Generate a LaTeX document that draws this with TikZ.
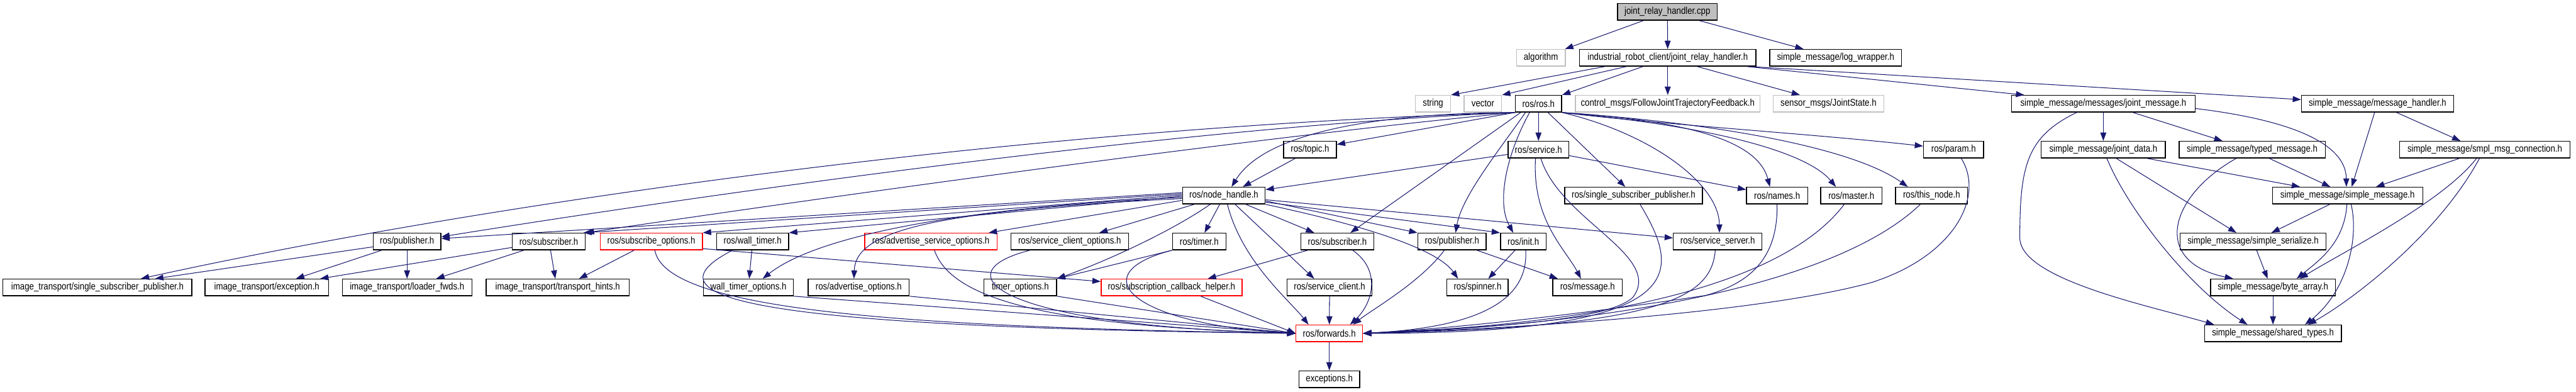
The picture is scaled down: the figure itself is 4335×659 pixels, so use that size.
\documentclass[tikz,border=0pt]{standalone}
\usepackage{fontspec}
\newfontfamily\dxfont[FakeStretch=0.85]{Liberation Sans}
\usetikzlibrary{arrows.meta}
\definecolor{depblue}{RGB}{25,25,112}
\definecolor{extgray}{RGB}{191,191,191}
\definecolor{truncred}{RGB}{255,0,0}
\definecolor{rootgray}{RGB}{191,191,191}

\begin{document}
\begin{tikzpicture}[
    x=1pt, y=-1pt,
    file/.style={draw=black, line width=1.5pt, fill=white, minimum height=28pt, inner sep=0pt, font={\fontsize{16.5}{18}\selectfont\dxfont}},
    extfile/.style={file, draw=extgray},
    trunc/.style={file, draw=truncred},
    root/.style={file, fill=rootgray},
    dep/.style={draw=depblue, line width=1.1pt, -{Triangle[length=14pt,width=10pt]}}
  ]
  \useasboundingbox (0,0) rectangle (4335,659);

  % row 0 and 1
  \node[root, minimum width=168pt] (cpp) at (2806,20) {joint\_relay\_handler.cpp};
  \node[extfile, minimum width=82pt] (algo) at (2593,97.25) {algorithm};
  \node[file, minimum width=297pt] (irc) at (2806.5,97.25) {industrial\_robot\_client/joint\_relay\_handler.h};
  \node[file, minimum width=222pt] (logw) at (3089,97.25) {simple\_message/log\_wrapper.h};

  % row 2
  \node[extfile, minimum width=59pt] (str) at (2411.5,174.5) {string};
  \node[extfile, minimum width=63pt] (vec) at (2495.5,174.5) {vector};
  \node[file, minimum width=78pt] (ros) at (2589,174.5) {ros/ros.h};
  \node[extfile, minimum width=311pt] (fjtf) at (2806.5,174.5) {control\_msgs/FollowJointTrajectoryFeedback.h};
  \node[extfile, minimum width=186pt] (jst) at (3077,174.5) {sensor\_msgs/JointState.h};
  \node[file, minimum width=309pt] (jmsg) at (3539.5,174.5) {simple\_message/messages/joint\_message.h};
  \node[file, minimum width=256pt] (mhnd) at (4001,174.5) {simple\_message/message\_handler.h};

  % row 3
  \node[file, minimum width=89pt] (topic) at (2204.5,251.75) {ros/topic.h};
  \node[file, minimum width=102pt] (srv) at (2589,251.75) {ros/service.h};
  \node[file, minimum width=101pt] (param) at (3287.5,251.75) {ros/param.h};
  \node[file, minimum width=209pt] (jdata) at (3539.5,251.75) {simple\_message/joint\_data.h};
  \node[file, minimum width=246pt] (tmsg) at (3790,251.75) {simple\_message/typed\_message.h};
  \node[file, minimum width=287pt] (conn) at (4181.5,251.75) {simple\_message/smpl\_msg\_connection.h};

  % row 4
  \node[file, minimum width=139pt] (nh) at (2059.5,329) {ros/node\_handle.h};
  \node[file, minimum width=232pt] (ssp) at (2749,329) {ros/single\_subscriber\_publisher.h};
  \node[file, minimum width=103pt] (names) at (2990.5,329) {ros/names.h};
  \node[file, minimum width=103pt] (master) at (3115.5,329) {ros/master.h};
  \node[file, minimum width=121pt] (thisn) at (3250.5,329) {ros/this\_node.h};
  \node[file, minimum width=253pt] (smsg) at (3950.5,329) {simple\_message/simple\_message.h};

  % row 5
  \node[file, minimum width=114pt] (pubA) at (685,406.25) {ros/publisher.h};
  \node[file, minimum width=123pt] (subA) at (923.5,406.25) {ros/subscriber.h};
  \node[trunc, minimum width=172pt] (subopt) at (1096,406.25) {ros/subscribe\_options.h};
  \node[file, minimum width=121pt] (wtimer) at (1266.5,406.25) {ros/wall\_timer.h};
  \node[trunc, minimum width=223pt] (advsrv) at (1566.5,406.25) {ros/advertise\_service\_options.h};
  \node[file, minimum width=198pt] (sclopt) at (1800,406.25) {ros/service\_client\_options.h};
  \node[file, minimum width=90pt] (timer) at (2018,406.25) {ros/timer.h};
  \node[file, minimum width=123pt] (subB) at (2250.5,406.25) {ros/subscriber.h};
  \node[file, minimum width=115pt] (pubB) at (2443.5,406.25) {ros/publisher.h};
  \node[file, minimum width=77pt] (init) at (2563.5,406.25) {ros/init.h};
  \node[file, minimum width=149pt] (ssrv) at (2890.5,406.25) {ros/service\_server.h};
  \node[file, minimum width=245pt] (ser) at (3791.5,406.25) {simple\_message/simple\_serialize.h};

  % row 6
  \node[file, minimum width=318pt] (itssp) at (164,483.5) {image\_transport/single\_subscriber\_publisher.h};
  \node[file, minimum width=208pt] (itexc) at (449,483.5) {image\_transport/exception.h};
  \node[file, minimum width=218pt] (itldr) at (685,483.5) {image\_transport/loader\_fwds.h};
  \node[file, minimum width=241pt] (itth) at (938.5,483.5) {image\_transport/transport\_hints.h};
  \node[file, minimum width=151pt] (wtopt) at (1259.5,483.5) {wall\_timer\_options.h};
  \node[file, minimum width=170pt] (advopt) at (1445,483.5) {ros/advertise\_options.h};
  \node[file, minimum width=122pt] (topt) at (1717,483.5) {timer\_options.h};
  \node[trunc, minimum width=237pt] (sch) at (1971.5,483.5) {ros/subscription\_callback\_helper.h};
  \node[file, minimum width=143pt] (scl) at (2237.5,483.5) {ros/service\_client.h};
  \node[file, minimum width=103pt] (spin) at (2486.5,483.5) {ros/spinner.h};
  \node[file, minimum width=117pt] (msg) at (2671.5,483.5) {ros/message.h};
  \node[file, minimum width=210pt] (barr) at (3825,483.5) {simple\_message/byte\_array.h};

  % rows 7 and 8
  \node[trunc, minimum width=112pt] (fwd) at (2237,560.75) {ros/forwards.h};
  \node[file, minimum width=230pt] (stypes) at (3825,560.75) {simple\_message/shared\_types.h};
  \node[file, minimum width=102pt] (exc) at (2237,638) {exceptions.h};

  % joint_relay_handler.cpp and its header
  \draw[dep] (cpp) -- (algo);
  \draw[dep] (cpp) -- (irc);
  \draw[dep] (cpp) -- (logw);
  \draw[dep] ([xshift=-106pt]irc.south) -- (str.north east);
  \draw[dep] ([xshift=-70pt]irc.south) -- (vec.north east);
  \draw[dep] ([xshift=-42pt]irc.south) -- (ros.north east);
  \draw[dep] (irc) -- (fjtf);
  \draw[dep] ([xshift=50pt]irc.south) -- ([xshift=-48pt]jst.north);
  \draw[dep] ([xshift=134pt]irc.south) -- ([xshift=-133pt]jmsg.north);
  \draw[dep] ([xshift=-10pt]irc.south east) -- ([yshift=7pt]mhnd.west);

  % ros/ros.h
  \draw[dep] (ros.south west) -- ([yshift=-6pt]topic.north east);
  \draw[dep] (ros) -- (srv);
  \draw[dep] ([xshift=16pt]ros.south) -- ([xshift=-14pt]ssp.north);
  \draw[dep] (ros.south east) .. controls (2800,210) and (3050,225) .. ([yshift=6pt]param.west);
  \draw[dep] (ros.south east) .. controls (2870,205) and (2960,245) .. ([xshift=-12pt]names.north);
  \draw[dep] (ros.south east) .. controls (2880,212) and (3040,255) .. ([xshift=-26pt]master.north);
  \draw[dep] (ros.south east) .. controls (2900,208) and (3120,250) .. ([xshift=-40pt]thisn.north);
  \draw[dep] (ros.south east) .. controls (2780,225) and (2893,310) .. ([xshift=3pt]ssrv.north);
  \draw[dep] (ros.south west) .. controls (2330,190) and (2130,220) .. ([xshift=13pt]nh.north);
  \draw[dep] (ros.south west) .. controls (2000,212) and (1200,325) .. ([yshift=8pt]pubA.east);
  \draw[dep] (ros.south west) .. controls (2100,232) and (1400,330) .. (subA.north east);
  \draw[dep] (ros.south west) .. controls (1700,215) and (800,345) .. ([xshift=73pt]itssp.north);
  \draw[dep] ([xshift=-30pt]ros.south) -- ([xshift=22pt]subB.north);
  \draw[dep] ([xshift=-22pt]ros.south) .. controls (2525,250) and (2460,330) .. ([xshift=6pt]pubB.north);
  \draw[dep] ([xshift=-15pt]ros.south) .. controls (2535,260) and (2518,340) .. ([xshift=-17pt]init.north);

  % ros/topic.h, ros/service.h
  \draw[dep] ([xshift=-25pt]topic.south) -- ([xshift=32pt]nh.north);
  \draw[dep] ([yshift=-8pt]srv.west) -- ([yshift=10pt]nh.east);
  \draw[dep] ([yshift=-10pt]srv.east) -- ([yshift=10pt]names.west);
  \draw[dep] ([xshift=-5pt]srv.south) .. controls (2578,370) and (2635,420) .. ([xshift=-11pt]msg.north);
  \draw[dep] ([xshift=4pt]srv.south) .. controls (2625,370) and (2800,430) .. (2748,500) .. controls (2700,545) and (2450,552) .. (fwd.east);

  % ros/node_handle.h
  \draw[dep] ([yshift=5pt]nh.west) -- ([yshift=5pt]pubA.east);
  \draw[dep] ([yshift=3pt]nh.west) -- ([xshift=-4pt]subA.north east);
  \draw[dep] ([yshift=1pt]nh.west) -- (subopt.north east);
  \draw[dep] ([yshift=-1pt]nh.west) -- (wtimer.north east);
  \draw[dep] ([yshift=-3pt]nh.west) .. controls (1600,350) and (1370,400) .. ([xshift=24pt]wtopt.north);
  \draw[dep] ([yshift=-5pt]nh.west) .. controls (1560,355) and (1440,390) .. ([xshift=-8pt]advopt.north);
  \draw[dep] ([yshift=-8pt]nh.west) -- ([xshift=-15pt]advsrv.north east);
  \draw[dep] ([xshift=-50pt]nh.south) -- ([xshift=50pt]sclopt.north);
  \draw[dep] ([xshift=-23pt]nh.south) .. controls (1970,390) and (1860,440) .. (topt.north east);
  \draw[dep] ([xshift=-7pt]nh.south) -- ([xshift=9pt]timer.north);
  \draw[dep] ([xshift=19pt]nh.south) -- ([xshift=-26pt]scl.north);
  \draw[dep] ([xshift=37pt]nh.south) -- ([xshift=-39pt]subB.north);
  \draw[dep] ([yshift=-9pt]nh.east) -- (pubB.north west);
  \draw[dep] ([yshift=-11pt]nh.east) -- (init.north west);
  \draw[dep] ([yshift=-7pt]nh.east) -- ([yshift=6pt]ssrv.west);
  \draw[dep] (nh.south east) .. controls (2300,380) and (2420,420) .. ([xshift=-33pt]spin.north);
  \draw[dep] ([xshift=6pt]nh.south) .. controls (2090,440) and (2170,505) .. ([xshift=-35pt]fwd.north);

  % row 5 headers
  \draw[dep] ([yshift=-9pt]pubA.west) -- ([xshift=97pt]itssp.north);
  \draw[dep] ([xshift=-43pt]pubA.south) -- ([xshift=49pt]itexc.north);
  \draw[dep] (pubA) -- (itldr);
  \draw[dep] ([yshift=-10pt]subA.west) -- ([xshift=-15pt]itexc.north east);
  \draw[dep] ([xshift=-42pt]subA.south) -- ([xshift=49pt]itldr.north);
  \draw[dep] ([xshift=3pt]subA.south) -- ([xshift=-4pt]itth.north);
  \draw[dep] ([xshift=-29pt]subopt.south) -- ([xshift=36pt]itth.north);
  \draw[dep] ([yshift=-12pt]subopt.east) -- ([yshift=10pt]sch.west);
  \draw[dep] ([xshift=6pt]subopt.south) .. controls (1120,520) and (1500,550) .. (fwd.west);
  \draw[dep] (wtimer) -- (wtopt);
  \draw[dep] ([xshift=-34pt]wtimer.south) .. controls (1080,500) and (1250,550) .. (fwd.west);
  \draw[dep] ([xshift=6pt]advsrv.south) .. controls (1600,500) and (1750,548) .. (fwd.west);
  \draw[dep] ([xshift=-67pt]sclopt.south) .. controls (1580,460) and (1680,548) .. (fwd.west);
  \draw[dep] (timer.south west) -- (topt.north east);
  \draw[dep] (timer.south west) .. controls (1820,460) and (1900,545) .. (fwd.west);
  \draw[dep] ([xshift=-50pt]subB.south) -- ([xshift=61pt]sch.north);
  \draw[dep] ([xshift=26pt]subB.south) .. controls (2325,455) and (2310,510) .. ([xshift=35pt]fwd.north);
  \draw[dep] ([xshift=42pt]pubB.south) -- ([xshift=-50pt]msg.north);
  \draw[dep] ([xshift=-13pt]pubB.south) .. controls (2390,475) and (2310,520) .. ([xshift=40pt]fwd.north);
  \draw[dep] ([xshift=-14pt]init.south) -- ([xshift=18pt]spin.north);
  \draw[dep] ([xshift=4pt]init.south) .. controls (2572,500) and (2500,550) .. (fwd.east);
  \draw[dep] ([xshift=-4pt]ssrv.south) .. controls (2880,500) and (2800,550) .. (fwd.east);

  % row 4 headers into ros/forwards.h
  \draw[dep] ([xshift=11pt]ssp.south) .. controls (2830,460) and (2850,560) .. (fwd.east);
  \draw[dep] (names.south) .. controls (2992,430) and (2950,475) .. (2870,497) .. controls (2650,530) and (2450,552) .. (fwd.east);
  \draw[dep] ([xshift=-12pt]master.south) .. controls (3000,480) and (2700,545) .. (fwd.east);
  \draw[dep] ([xshift=-19pt]thisn.south) .. controls (3100,470) and (2750,545) .. (fwd.east);
  \draw[dep] ([xshift=13pt]param.south) .. controls (3340,330) and (3290,430) .. (3150,475) .. controls (2950,530) and (2500,555) .. (fwd.east);

  % row 6 into ros/forwards.h
  \draw[dep] (wtopt.south east) -- (fwd.west);
  \draw[dep] (advopt.south east) -- (fwd.west);
  \draw[dep] (topt.south east) -- (fwd.west);
  \draw[dep] ([xshift=49pt]sch.south) -- (fwd.west);
  \draw[dep] (scl) -- (fwd);
  \draw[dep] (fwd) -- (exc);

  % simple_message
  \draw[dep] (jmsg) -- (jdata);
  \draw[dep] ([xshift=50pt]jmsg.south) -- ([xshift=-50pt]tmsg.north);
  \draw[dep] ([yshift=-8pt]jmsg.east) .. controls (3880,205) and (3948,250) .. ([xshift=-2pt]smsg.north);
  \draw[dep] ([xshift=-45pt]jmsg.south) .. controls (3410,230) and (3399,280) .. (3399,400) .. controls (3399,470) and (3620,515) .. ([xshift=-99pt]stypes.north);
  \draw[dep] ([xshift=-5pt]mhnd.south) -- ([xshift=7pt]smsg.north);
  \draw[dep] ([xshift=32pt]mhnd.south) -- ([xshift=-41pt]conn.north);
  \draw[dep] ([xshift=74pt]jdata.south) -- ([xshift=-80pt]smsg.north);
  \draw[dep] ([xshift=22pt]jdata.south) -- ([xshift=-28pt]ser.north);
  \draw[dep] ([xshift=6pt]jdata.south) .. controls (3580,350) and (3680,480) .. ([xshift=-43pt]stypes.north);
  \draw[dep] ([xshift=29pt]tmsg.south) -- ([xshift=-29pt]smsg.north);
  \draw[dep] ([xshift=-27pt]tmsg.south) .. controls (3650,330) and (3620,440) .. ([xshift=-67pt]barr.north);
  \draw[dep] ([xshift=-43pt]conn.south) -- ([xshift=48pt]smsg.north);
  \draw[dep] ([xshift=-14pt]conn.south) .. controls (4110,340) and (3950,420) .. ([xshift=45pt]barr.north);
  \draw[dep] ([xshift=-9pt]conn.south) .. controls (4100,400) and (3950,510) .. ([xshift=59pt]stypes.north);
  \draw[dep] ([xshift=-30pt]smsg.south) -- ([xshift=31pt]ser.north);
  \draw[dep] ([xshift=-1pt]smsg.south) .. controls (3945,410) and (3900,440) .. ([xshift=40pt]barr.north);
  \draw[dep] ([xshift=6pt]smsg.south) .. controls (3970,400) and (3950,490) .. ([xshift=54pt]stypes.north);
  \draw[dep] ([xshift=6pt]ser.south) -- ([xshift=-9pt]barr.north);
  \draw[dep] (barr) -- (stypes);
\end{tikzpicture}
\end{document}
